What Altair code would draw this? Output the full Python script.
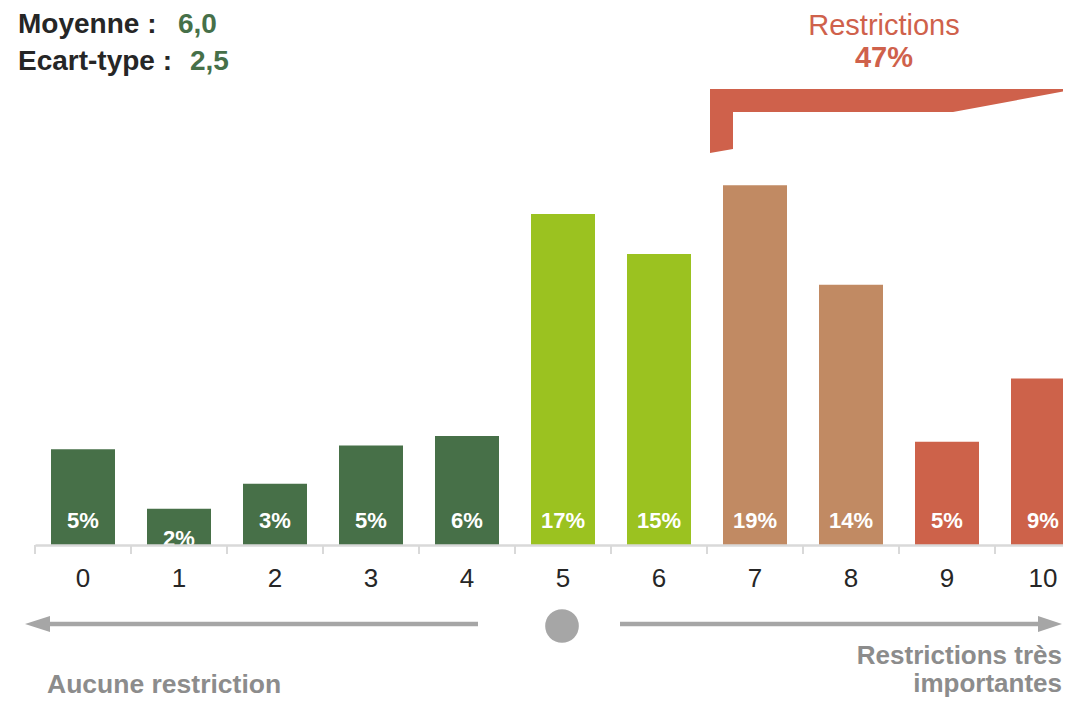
import altair as alt
import pandas as pd

# ---------------- data ----------------
categories = ["0", "1", "2", "3", "4", "5", "6", "7", "8", "9", "10"]
values = [5.0, 1.9, 3.2, 5.2, 5.7, 17.3, 15.2, 18.8, 13.6, 5.4, 8.7]
labels = ["5%", "2%", "3%", "5%", "6%", "17%", "15%", "19%", "14%", "5%", "9%"]
groups = ["faible", "faible", "faible", "faible", "faible",
          "moyen", "moyen", "fort", "fort", "très fort", "très fort"]
group_names = ["faible", "moyen", "fort", "très fort"]
group_colors = ["#477048", "#9BC220", "#C18A63", "#CD624A"]

mean_label = "Moyenne : "
mean_value = "6,0"
sd_label = "Ecart-type : "
sd_value = "2,5"
restr_title = "Restrictions"
restr_share = "47%"
left_caption = "Aucune restriction"
right_caption = ["Restrictions très", "importantes"]

FONT = "Liberation Sans"
GREEN_TXT = "#467049"
RED = "#CF614B"
GREY = "#A6A6A6"
AXIS_GREY = "#D9D9D9"

df = pd.DataFrame({"cat": categories, "value": values, "label": labels, "group": groups})
one = pd.DataFrame({"k": [0]})

x_scale = alt.Scale(range=[0, 1056], paddingInner=1 / 3, paddingOuter=1 / 6)
x_enc = alt.X(
    "cat:N",
    sort=categories,
    scale=x_scale,
    axis=alt.Axis(
        title=None, labelAngle=0, ticks=False,
        domainColor=AXIS_GREY, domainWidth=2.5,
        labelFont=FONT, labelFontSize=26, labelColor="#262626",
        labelBaseline="alphabetic", labelPadding=41, zindex=1,
    ),
)
y_scale = alt.Scale(domain=[0, 28.06], nice=False, zero=True)

base = alt.Chart(df)

bars = base.mark_bar().encode(
    x=x_enc,
    y=alt.Y("value:Q", scale=y_scale, axis=None),
    color=alt.Color("group:N", scale=alt.Scale(domain=group_names, range=group_colors), legend=None),
)

# axis ticks half-way between bars
ticks = base.mark_rule(color=AXIS_GREY, strokeWidth=2, xOffset=-16).encode(
    x=alt.X("cat:N", sort=categories, bandPosition=0),
    y=alt.datum(0),
    y2=alt.value(546),
)

bar_labels = base.transform_filter("datum.value >= 2.5").mark_text(
    font=FONT, fontSize=22, fontWeight="bold", color="white",
    baseline="alphabetic", dy=-17,
).encode(x=alt.X("cat:N", sort=categories), y=alt.datum(0), text="label:N")

small_labels = base.transform_filter("datum.value < 2.5").mark_text(
    font=FONT, fontSize=22, fontWeight="bold", color="white",
    baseline="alphabetic", dy=1, clip=True,
).encode(x=alt.X("cat:N", sort=categories), y=alt.datum(0), text="label:N")


def txt(s, x, y, size, color, weight="bold", align="left"):
    return alt.Chart(one).mark_text(
        font=FONT, fontSize=size, fontWeight=weight, color=color,
        align=align, baseline="alphabetic",
    ).encode(x=alt.value(x), y=alt.value(y), text=alt.value(s))


texts = [
    txt(mean_label, -17, 25, 28, "#262626"),
    txt(mean_value, 143, 25, 28, GREEN_TXT),
    txt(sd_label, -17, 62, 28, "#262626"),
    txt(sd_value, 155, 62, 28, GREEN_TXT),
    txt(restr_title, 849, 27, 29, RED, weight="normal", align="center"),
    txt(restr_share, 849, 59, 29, RED, align="center"),
    txt(left_caption, 12, 685, 26.5, "#8C8C8C"),
    txt(right_caption[0], 1027, 656, 26, "#8C8C8C", align="right"),
    txt(right_caption[1], 1027, 684, 26, "#8C8C8C", align="right"),
]

# bracket over the "Restrictions" bars
bracket = alt.Chart(one).mark_point(
    shape="M0,0 L361,0 L361,1 L243,23 L23,23 L23,60 L0,64 Z",
    filled=True, fill=RED, strokeWidth=0, opacity=1, size=4,
).encode(x=alt.value(675), y=alt.value(81))

# arrows and centre dot
left_line = alt.Chart(one).mark_rule(color=GREY, strokeWidth=4.5).encode(
    x=alt.value(13), x2=alt.value(443), y=alt.value(616))
left_head = alt.Chart(one).mark_point(
    shape="M0,0 L25,-8 L25,8 Z", filled=True, fill=GREY, strokeWidth=0, opacity=1, size=4,
).encode(x=alt.value(-10), y=alt.value(616))
right_line = alt.Chart(one).mark_rule(color=GREY, strokeWidth=4.5).encode(
    x=alt.value(585), x2=alt.value(1008), y=alt.value(616))
right_head = alt.Chart(one).mark_point(
    shape="M0,0 L-24,-8 L-24,8 Z", filled=True, fill=GREY, strokeWidth=0, opacity=1, size=4,
).encode(x=alt.value(1027), y=alt.value(616))
dot = alt.Chart(one).mark_point(
    shape="circle", filled=True, fill=GREY, strokeWidth=0, opacity=1, size=1134,
).encode(x=alt.value(527), y=alt.value(618))

chart = alt.layer(
    bars, ticks, bar_labels, small_labels, bracket,
    left_line, left_head, right_line, right_head, dot, *texts,
).properties(
    width=1028, height=537,
    autosize=alt.AutoSizeParams(type="none"),
    padding={"left": 27, "top": 0, "right": 0, "bottom": 153},
).configure_view(stroke=None)

chart.save("out.html", embed_options={"renderer": "svg", "actions": False})
